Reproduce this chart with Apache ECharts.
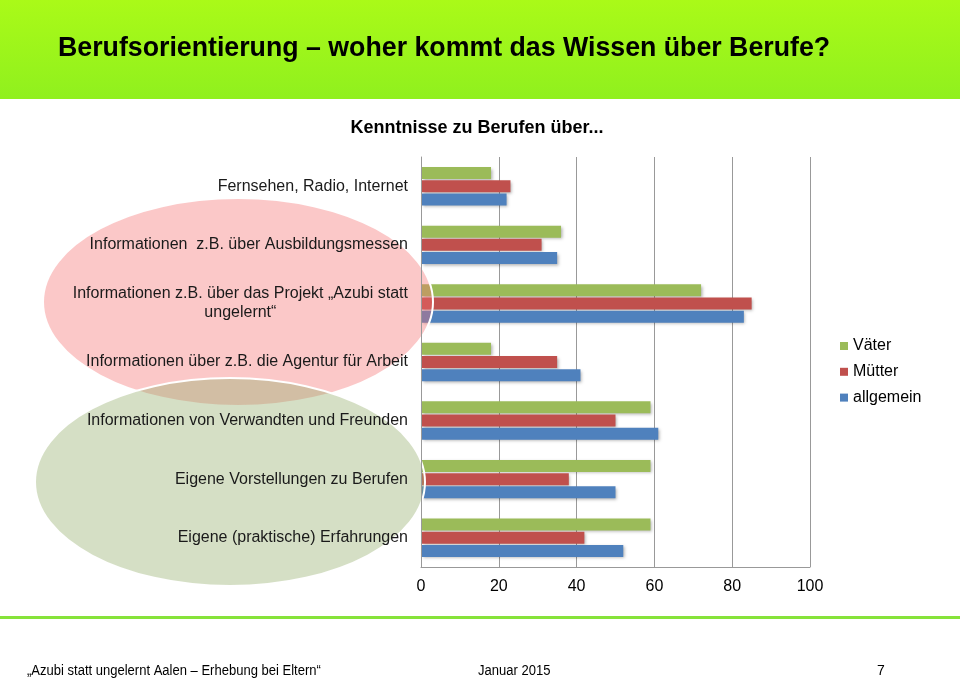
<!DOCTYPE html>
<html>
<head>
<meta charset="utf-8">
<script src="https://cdn.jsdelivr.net/npm/echarts@6/dist/echarts.min.js"></script>
<style>
html,body{margin:0;padding:0;background:#fff;}
#chart{width:960px;height:681px;}
</style>
</head>
<body>
<div id="chart"></div>
<script>
const categories = [
  'Fernsehen, Radio, Internet',
  'Informationen  z.B. über Ausbildungsmessen',
  'Informationen z.B. über das Projekt „Azubi statt\nungelernt“',
  'Informationen über z.B. die Agentur für Arbeit',
  'Informationen von Verwandten und Freunden',
  'Eigene Vorstellungen zu Berufen',
  'Eigene (praktische) Erfahrungen'
];
const seriesNames = ['Väter', 'Mütter', 'allgemein'];
const vaeter    = [18, 36, 72, 18, 59, 59, 59];
const muetter   = [23, 31, 85, 35, 50, 38, 42];
const allgemein = [22, 35, 83, 41, 61, 50, 52];
const xTicks = [0, 20, 40, 60, 80, 100];

const colors = ['#9BBB59', '#C0504D', '#4F81BD'];
const font = '"Liberation Sans", Arial, sans-serif';

const chart = echarts.init(document.getElementById('chart'));

function mkSeries(name, data, color) {
  return {
    name: name, type: 'bar', data: data, barWidth: 12, barGap: '10%',
    itemStyle: { color: color, shadowBlur: 3, shadowColor: 'rgba(0,0,0,0.3)', shadowOffsetX: 1.5, shadowOffsetY: 1.5 }
  };
}

const option = {
  animation: false,
  textStyle: { fontFamily: font },
  grid: { left: 421, right: 150, top: 157, bottom: 114 },
  legend: {
    orient: 'vertical', left: 835, top: 333, itemWidth: 8, itemHeight: 8, itemGap: 9.8,
    icon: 'rect', data: seriesNames,
    textStyle: { fontSize: 16, color: '#000', fontFamily: font }
  },
  xAxis: {
    type: 'value', min: xTicks[0], max: xTicks[xTicks.length - 1], interval: 20,
    axisLine: { show: true, lineStyle: { color: '#999' } },
    axisTick: { show: false },
    splitLine: { show: true, lineStyle: { color: '#999' } },
    axisLabel: { fontSize: 16, color: '#000', margin: 12, fontFamily: font }
  },
  yAxis: {
    type: 'category', inverse: true, data: categories, z: 10,
    axisLine: { show: true, lineStyle: { color: '#999' } },
    axisTick: { show: false },
    axisLabel: {
      fontSize: 16, color: '#1a1a1a', margin: 13, fontFamily: font, lineHeight: 19,
      formatter: function (v) {
        const parts = v.split('\n');
        if (parts.length === 1) return v;
        return parts[0] + '\n{c|' + parts[1] + '}';
      },
      rich: { c: { width: 335, align: 'center', fontSize: 16, color: '#1a1a1a', lineHeight: 19, fontFamily: font } }
    }
  },
  series: [
    mkSeries(seriesNames[0], vaeter, colors[0]),
    mkSeries(seriesNames[1], muetter, colors[1]),
    mkSeries(seriesNames[2], allgemein, colors[2])
  ],
  graphic: [
    { type: 'rect', z: 0, shape: { x: 0, y: 0, width: 960, height: 99 },
      style: { fill: new echarts.graphic.LinearGradient(0, 0, 0, 1, [{ offset: 0, color: '#AAFA18' }, { offset: 1, color: '#90F01E' }]) } },
    { type: 'text', z: 1, x: 58, y: 49, scaleX: 0.99,
      style: { text: 'Berufsorientierung – woher kommt das Wissen über Berufe?', font: 'bold 27px ' + font, fill: '#000', verticalAlign: 'middle' } },
    { type: 'text', z: 1, x: 477, y: 128,
      style: { text: 'Kenntnisse zu Berufen über...', font: 'bold 18px ' + font, fill: '#000', align: 'center', verticalAlign: 'middle' } },
    { type: 'ellipse', z: 5, shape: { cx: 238, cy: 302, rx: 195, ry: 104 },
      style: { fill: 'rgba(245,110,110,0.38)', stroke: '#fff', lineWidth: 2 } },
    { type: 'ellipse', z: 6, shape: { cx: 230, cy: 482, rx: 195, ry: 104 },
      style: { fill: 'rgba(150,175,110,0.4)', stroke: '#fff', lineWidth: 2 } },
    { type: 'rect', z: 1, shape: { x: 0, y: 616, width: 960, height: 3 },
      style: { fill: '#86E33A' } },
    { type: 'text', z: 1, x: 27, y: 671, scaleX: 0.93,
      style: { text: '„Azubi statt ungelernt Aalen – Erhebung bei Eltern“', font: '14px ' + font, fill: '#000', verticalAlign: 'middle' } },
    { type: 'text', z: 1, x: 478, y: 671, scaleX: 0.93,
      style: { text: 'Januar 2015', font: '14px ' + font, fill: '#000', verticalAlign: 'middle' } },
    { type: 'text', z: 1, x: 877, y: 671,
      style: { text: '7', font: '14px ' + font, fill: '#000', verticalAlign: 'middle' } }
  ]
};
chart.setOption(option);
</script>
</body>
</html>
